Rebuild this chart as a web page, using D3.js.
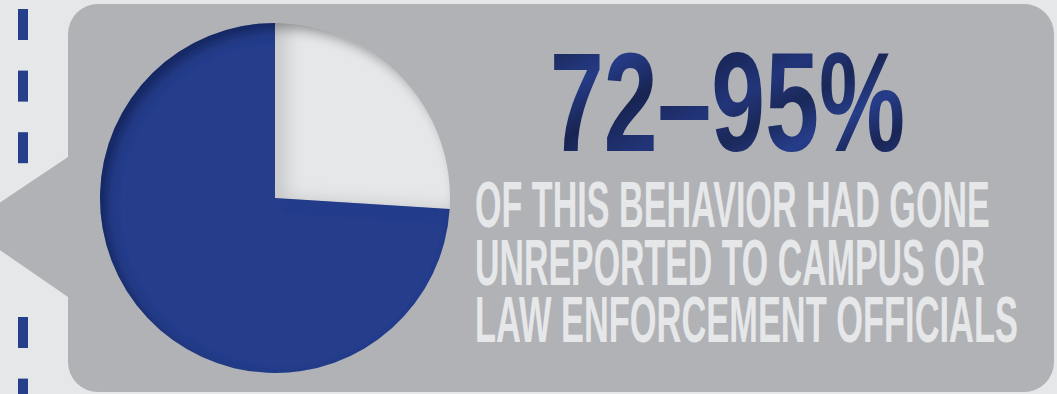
<!DOCTYPE html>
<html>
<head>
<meta charset="utf-8">
<script src="https://cdn.jsdelivr.net/npm/d3@7"></script>
<style>
  html, body { margin: 0; padding: 0; background: #e6e7e9; }
  svg { display: block; }
</style>
</head>
<body>
<svg id="chart"></svg>
<script>
// data
var sliceLabels = ["reported", "unreported"];
var sliceValues = [26, 74];
var sliceColors = ["#e6e7e9", "#253e8b"];
var headline = "72–95%";
var bodyLines = ["OF THIS BEHAVIOR HAD GONE", "UNREPORTED TO CAMPUS OR", "LAW ENFORCEMENT OFFICIALS"];
var dashRows = [0, 1, 2, 5, 6];

var w = 1057, h = 394;
var svg = d3.select("#chart").attr("width", w).attr("height", h);
var defs = svg.append("defs");

// inset shadow for the sunken pie look
function insetShadow(id, dx, dy, blur, opacity) {
  var f = defs.append("filter").attr("id", id)
    .attr("x", "-20%").attr("y", "-20%").attr("width", "140%").attr("height", "140%");
  f.append("feFlood").attr("flood-color", "#000").attr("flood-opacity", opacity);
  f.append("feComposite").attr("in2", "SourceAlpha").attr("operator", "out");
  f.append("feOffset").attr("dx", dx).attr("dy", dy);
  f.append("feGaussianBlur").attr("stdDeviation", blur).attr("result", "sh");
  f.append("feComposite").attr("in", "sh").attr("in2", "SourceAlpha").attr("operator", "in").attr("result", "clip");
  var m = f.append("feMerge");
  m.append("feMergeNode").attr("in", "SourceGraphic");
  m.append("feMergeNode").attr("in", "clip");
}
insetShadow("pieShade", 7, 7, 6, 0.55);
insetShadow("sliceShade", 12, 0, 9, 0.28);

// headline fill, relative to the text's own box
var grad = defs.append("linearGradient").attr("id", "headGrad")
  .attr("x1", 0).attr("y1", 0.1).attr("x2", 1).attr("y2", 0.9);
[["0", "#18244f"], ["0.18", "#253b86"], ["0.33", "#182452"], ["0.5", "#22357a"],
 ["0.62", "#1a2858"], ["0.75", "#263d8a"], ["0.88", "#192655"], ["1", "#22367d"]]
  .forEach(function(s){ grad.append("stop").attr("offset", s[0]).attr("stop-color", s[1]); });

// dashed rule on the left
svg.selectAll("rect.dash")
  .data(dashRows)
  .enter()
  .append("rect")
    .attr("class", "dash")
    .attr("x", 18)
    .attr("y", function(d){ return 9 + d*61.6; })
    .attr("width", 10)
    .attr("height", 31)
    .attr("fill", "#263f8b");

// callout box with pointer
var bx = 68, by = 4, bw = 986, bh = 388, r = 30;
var box = d3.path();
box.moveTo(bx + r, by);
box.lineTo(bx + bw - r, by);
box.arcTo(bx + bw, by, bx + bw, by + r, r);
box.lineTo(bx + bw, by + bh - r);
box.arcTo(bx + bw, by + bh, bx + bw - r, by + bh, r);
box.lineTo(bx + r, by + bh);
box.arcTo(bx, by + bh, bx, by + bh - r, r);
box.lineTo(bx, 297);
box.lineTo(-35, 226);
box.lineTo(bx, 157);
box.lineTo(bx, by + r);
box.arcTo(bx, by, bx + r, by, r);
box.closePath();
svg.append("path").attr("d", box.toString()).attr("fill", "#b1b2b6");

// pie
var cx = 275, cy = 198, radius = 175;
var pie = d3.pie().sort(null).value(function(d){ return d; });
var arc = d3.arc().innerRadius(0).outerRadius(radius);
var color = d3.scaleOrdinal().domain(sliceLabels).range(sliceColors);

var pieG = svg.append("g")
  .attr("transform", "translate(" + cx + "," + cy + ")")
  .attr("filter", "url(#pieShade)");
pieG.selectAll("path")
  .data(pie(sliceValues))
  .enter()
  .append("path")
    .attr("d", arc)
    .attr("fill", function(d, i){ return color(sliceLabels[i]); })
    .attr("filter", function(d, i){ return i === 0 ? "url(#sliceShade)" : null; });

// squeeze a text horizontally to a given width (condensed look)
function fitWidth(sel, x, y, width) {
  var len = sel.node().getComputedTextLength();
  sel.attr("transform", "translate(" + x + "," + y + ") scale(" + (width / len) + ",1)");
}

// headline
var head = svg.append("text")
  .style("font-family", "'Liberation Sans Narrow', 'Liberation Sans', sans-serif")
  .style("font-weight", "bold")
  .style("font-size", "141px")
  .attr("fill", "url(#headGrad)")
  .text(headline);
fitWidth(head, 550, 151, 355);

var lineWidths = [515, 510, 543];
svg.selectAll("text.body")
  .data(bodyLines)
  .enter()
  .append("text")
    .attr("class", "body")
    .style("font-family", "'Liberation Sans Narrow', 'Liberation Sans', sans-serif")
    .style("font-weight", "bold")
    .style("font-size", "64px")
    .attr("fill", "#e6e7e9")
    .text(function(d){ return d; })
    .each(function(d, i){ fitWidth(d3.select(this), 475, 227 + i*57.5, lineWidths[i]); });
</script>
</body>
</html>
